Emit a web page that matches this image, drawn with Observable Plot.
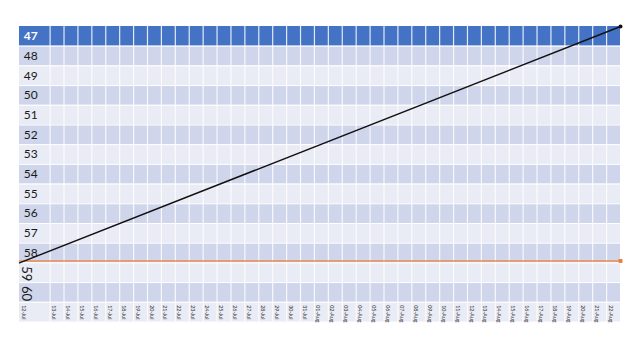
<!DOCTYPE html>
<html>
<head>
<meta charset="utf-8">
<script src="https://cdn.jsdelivr.net/npm/d3@7"></script>
<script src="https://cdn.jsdelivr.net/npm/@observablehq/plot@0.6"></script>
<style>
  html, body { margin: 0; padding: 0; background: #ffffff; }
  #chart { width: 640px; height: 360px; }
</style>
</head>
<body>
<div id="chart"></div>
<script>
// ---- data ----
const rowLabels = [47, 48, 49, 50, 51, 52, 53, 54, 55, 56, 57, 58, 59, 60];
const dateLabels = [
  "12-Jul","13-Jul","14-Jul","15-Jul","16-Jul","17-Jul","18-Jul","19-Jul","20-Jul","21-Jul",
  "22-Jul","23-Jul","24-Jul","25-Jul","26-Jul","27-Jul","28-Jul","29-Jul","30-Jul","31-Jul",
  "01-Aug","02-Aug","03-Aug","04-Aug","05-Aug","06-Aug","07-Aug","08-Aug","09-Aug","10-Aug",
  "11-Aug","12-Aug","13-Aug","14-Aug","15-Aug","16-Aug","17-Aug","18-Aug","19-Aug","20-Aug",
  "21-Aug","22-Aug"
];
// black (plan) line: from start of first day to end of last day
const planDates = ["12-Jul", "22-Aug"];
const planValues = [58.5, 46.5];
// orange (actual) line
const actualDates = ["12-Jul", "22-Aug"];
const actualValues = [58.4, 58.4];

// ---- derived layout helpers ----
const firstColW = 2.2;
const colLeft = i => i === 0 ? 0 : firstColW + (i - 1);
const colRight = i => i === 0 ? firstColW : firstColW + i;
const xMax = colRight(dateLabels.length - 1);
const yTop = rowLabels[0] - 0.5;
const yDateRow = rowLabels[rowLabels.length - 1] + 1; // date row index
const yBottom = yDateRow + 0.5;

const dark = "#CFD5EA", light = "#E9EBF5", head = "#4472C4";

const bands = rowLabels.map((r, i) => ({
  y1: r - 0.5, y2: r + 0.5,
  fill: i === 0 ? head : (i % 2 === 1 ? dark : light)
}));
bands.push({ y1: yDateRow - 0.5, y2: yDateRow + 0.5, fill: light });

const colBounds = dateLabels.slice(1).map((d, i) => colLeft(i + 1));
const rowBounds = rowLabels.slice(1).map(r => r - 0.5).concat([yDateRow - 0.5]);

const planPts = planDates.map((d, i) => {
  const idx = dateLabels.indexOf(d);
  return { x: i === 0 ? colLeft(idx) : colRight(idx), y: planValues[i] };
});
const actualPts = actualDates.map((d, i) => {
  const idx = dateLabels.indexOf(d);
  return { x: i === 0 ? colLeft(idx) : colRight(idx), y: actualValues[i] };
});

const headLabel = [{ r: rowLabels[0], x: 0.3 }];
const horizLabels = rowLabels.filter(r => r > rowLabels[0] && r <= 58).map(r => ({ r, x: 0.3 }));
const rotLabels = rowLabels.filter(r => r > 58).map(r => ({ r, x: 0.5 }));
const dateTexts = dateLabels.map((d, i) => ({ d, x: colLeft(i) + 0.27 }));

const font = "Lato, 'Open Sans', 'Noto Sans', sans-serif";

const chart = Plot.plot({
  width: 640,
  height: 360,
  marginLeft: 19,
  marginRight: 20,
  marginTop: 26,
  marginBottom: 38.5,
  x: { domain: [0, xMax], axis: null },
  y: { domain: [yBottom, yTop], axis: null },
  style: { fontFamily: font, background: "white" },
  marks: [
    Plot.rect(bands, { x1: 0, x2: xMax, y1: "y1", y2: "y2", fill: "fill" }),
    Plot.ruleX(colBounds, { x: d => d, y1: yTop, y2: yBottom, stroke: "white", strokeWidth: 1.2, strokeOpacity: 0.85 }),
    Plot.ruleY(rowBounds, { y: d => d, x1: 0, x2: xMax, stroke: "white", strokeWidth: 1 }),
    Plot.text(headLabel, {
      x: "x", y: "r", text: d => String(d.r), textAnchor: "start",
      fontSize: 12, fill: "white", fontWeight: "bold"
    }),
    Plot.text(horizLabels, {
      x: "x", y: "r", text: d => String(d.r), textAnchor: "start",
      fontSize: 12, fill: "#1a1a1a"
    }),
    Plot.text(rotLabels, {
      x: "x", y: d => d.r - 0.33, text: d => String(d.r), rotate: 90,
      textAnchor: "start", fontSize: 13, fill: "#1a1a1a"
    }),
    Plot.text(dateTexts, {
      x: "x", y: yDateRow - 0.35, text: "d", rotate: 90,
      textAnchor: "start", fontSize: 5.3, fill: "#333"
    }),
    Plot.line(actualPts, { x: "x", y: "y", stroke: "#ED7D31", strokeWidth: 1.5, strokeOpacity: 0.85 }),
    Plot.dot(actualPts.slice(-1), { x: "x", y: "y", r: 2.2, fill: "#ED7D31", symbol: "square" }),
    Plot.line(planPts, { x: "x", y: "y", stroke: "#111", strokeWidth: 1.4 }),
    Plot.dot(planPts.slice(-1), { x: "x", y: "y", r: 2, fill: "#111" })
  ]
});
document.getElementById("chart").appendChild(chart);
</script>
</body>
</html>
